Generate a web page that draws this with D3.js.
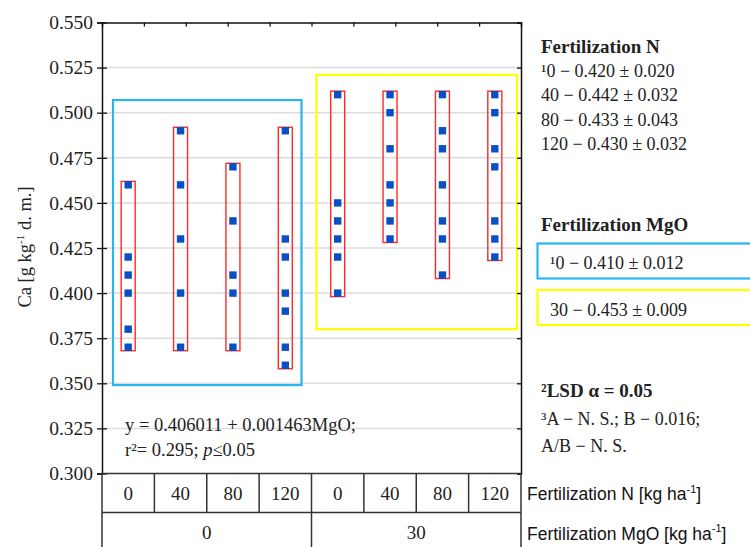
<!DOCTYPE html>
<html>
<head>
<meta charset="utf-8">
<script src="https://cdn.jsdelivr.net/npm/d3@7/dist/d3.min.js"></script>
<style>
  body { margin: 0; background: #fff; }
  svg { display: block; }
</style>
</head>
<body>
<div id="chart"></div>
<script>
/* Data */
var nLevels = ["0", "40", "80", "120"];
var mgoLevels = ["0", "30"];
// Ca content for each N level, MgO 0
var caMgO0 = [
    [0.46, 0.42, 0.41, 0.40, 0.38, 0.37],
    [0.49, 0.46, 0.43, 0.40, 0.37],
    [0.47, 0.44, 0.41, 0.40, 0.37],
    [0.49, 0.43, 0.42, 0.40, 0.39, 0.37, 0.36]
];
// Ca content for each N level, MgO 30
var caMgO30 = [
    [0.51, 0.45, 0.44, 0.43, 0.42, 0.40],
    [0.51, 0.50, 0.48, 0.46, 0.45, 0.44, 0.43],
    [0.51, 0.49, 0.48, 0.46, 0.44, 0.43, 0.41],
    [0.51, 0.50, 0.48, 0.47, 0.44, 0.43, 0.42]
];
var yTicks = [0.300, 0.325, 0.350, 0.375, 0.400, 0.425, 0.450, 0.475, 0.500, 0.525, 0.550];
// group boxes (Ca range) for MgO 0 and MgO 30
var groupBoxCa = [[0.349, 0.507], [0.380, 0.521]];
var nMeans = ["\u00B90 \u2212 0.420 \u00B1 0.020", "40 \u2212 0.442 \u00B1 0.032",
              "80 \u2212 0.433 \u00B1 0.043", "120 \u2212 0.430 \u00B1 0.032"];
var mgoMeans = ["\u00B90 \u2212 0.410 \u00B1 0.012", "30 \u2212 0.453 \u00B1 0.009"];
var lsdLines = ["\u00B3A \u2212 N. S.; B \u2212 0.016;", "A/B \u2212 N. S."];

/* Setup */
var width = 750, height = 547,
    serif = "'Liberation Serif', 'Times New Roman', serif",
    sans = "'Liberation Sans', Arial, sans-serif",
    groupColors = ["#29b6ee", "#ffff00"],
    pointColor = "#0a50c4",
    rangeColor = "#ff2a2a";

var plot = { left: 102, right: 521, top: 22.5, bottom: 473.5 };

var columns = [];
mgoLevels.forEach(function(m, gi) {
    var vals = gi == 0 ? caMgO0 : caMgO30;
    nLevels.forEach(function(n, ni) {
        columns.push({ key: m + "-" + n, mgo: m, n: n, group: gi, values: vals[ni] });
    });
});

var x = d3.scaleBand()
    .domain(columns.map(function(d) { return d.key; }))
    .range([plot.left, plot.right])
    .paddingInner(0).paddingOuter(0);
var bw = x.bandwidth();
var xTop = d3.scaleLinear().domain([0, 10]).range([plot.left, plot.right]);

var y = d3.scaleLinear()
    .domain([0.300, 0.550])
    .range([plot.bottom, plot.top]);

var svg = d3.select("#chart")
    .append("svg")
    .attr("width", width)
    .attr("height", height);

/* Gridlines */
svg.append("g")
    .selectAll("line")
    .data(yTicks.slice(1, -1))
    .enter().append("line")
    .attr("x1", plot.left).attr("x2", plot.right)
    .attr("y1", function(d) { return y(d); })
    .attr("y2", function(d) { return y(d); })
    .attr("stroke", "#dcdcdc")
    .attr("stroke-width", 1.5);

/* Group boxes */
svg.append("g")
    .selectAll("rect")
    .data(groupBoxCa)
    .enter().append("rect")
    .attr("x", function(d, i) { return i == 0 ? x(columns[0].key) + 11 : x(columns[4].key) + 5; })
    .attr("width", function(d, i) { return i == 0 ? bw * 4 - 21 : bw * 4 - 9; })
    .attr("y", function(d) { return y(d[1]); })
    .attr("height", function(d) { return y(d[0]) - y(d[1]); })
    .attr("fill", "none")
    .attr("stroke", function(d, i) { return groupColors[i]; })
    .attr("stroke-width", 2.2);

/* Range boxes & points */
var col = svg.append("g")
    .selectAll("g")
    .data(columns)
    .enter().append("g")
    .attr("transform", function(d) { return "translate(" + (x(d.key) + bw / 2) + ",0)"; });

col.append("rect")
    .attr("x", -7)
    .attr("width", 14)
    .attr("y", function(d) { return y(d3.max(d.values)) - 3.5; })
    .attr("height", function(d) { return y(d3.min(d.values)) - y(d3.max(d.values)) + 7; })
    .attr("fill", "none")
    .attr("stroke", rangeColor)
    .attr("stroke-width", 1.4);

col.selectAll(".pt")
    .data(function(d) { return d.values; })
    .enter().append("rect")
    .attr("class", "pt")
    .attr("x", -3.7)
    .attr("width", 7.4)
    .attr("y", function(d) { return y(d) - 3.7; })
    .attr("height", 7.4)
    .attr("fill", pointColor);

/* Axes */
var yAxisL = svg.append("g")
    .attr("transform", "translate(" + plot.left + ",0)")
    .call(d3.axisLeft(y).tickValues(yTicks).tickFormat(d3.format(".3f")).tickSize(5).tickPadding(4));
yAxisL.selectAll(".tick line").attr("x2", -5).attr("x1", 5);
yAxisL.selectAll("text").attr("font-family", serif).attr("font-size", 19.5).attr("fill", "#222");

var yAxisR = svg.append("g")
    .attr("transform", "translate(" + plot.right + ",0)")
    .call(d3.axisLeft(y).tickValues(yTicks).tickFormat("").tickSize(4));

var xAxisT = svg.append("g")
    .attr("transform", "translate(0," + plot.top + ")")
    .call(d3.axisBottom(xTop).ticks(10).tickFormat("").tickSize(4));
xAxisT.selectAll(".tick").filter(function(d) { return d == 0 || d == 10; }).remove();

svg.selectAll(".domain").attr("stroke", "#111").attr("stroke-width", 1.5);
svg.selectAll(".tick line").attr("stroke", "#111").attr("stroke-width", 1.3);

/* Table under the plot */
var rowN = [plot.bottom, 512.5], rowM = [512.5, 560];
var table = svg.append("g").attr("stroke", "#333").attr("stroke-width", 1.5);
table.append("line").attr("x1", plot.left).attr("x2", plot.right).attr("y1", rowN[0]).attr("y2", rowN[0]);
table.append("line").attr("x1", plot.left).attr("x2", plot.right).attr("y1", rowN[1]).attr("y2", rowN[1]);
table.append("line").attr("x1", plot.left).attr("x2", plot.left).attr("y1", rowN[0]).attr("y2", rowM[1]);
table.append("line").attr("x1", plot.right).attr("x2", plot.right).attr("y1", rowN[0]).attr("y2", rowM[1]);
table.selectAll(".vn")
    .data(columns.slice(1))
    .enter().append("line")
    .attr("x1", function(d) { return x(d.key); })
    .attr("x2", function(d) { return x(d.key); })
    .attr("y1", rowN[0])
    .attr("y2", function(d) { return d.n == nLevels[0] ? rowM[1] : rowN[1]; });

svg.append("g")
    .selectAll("text")
    .data(columns)
    .enter().append("text")
    .attr("x", function(d) { return x(d.key) + bw / 2; })
    .attr("y", (rowN[0] + rowN[1]) / 2 + 6.5)
    .attr("text-anchor", "middle")
    .attr("font-family", serif).attr("font-size", 19).attr("fill", "#222")
    .text(function(d) { return d.n; });

svg.append("g")
    .selectAll("text")
    .data(mgoLevels)
    .enter().append("text")
    .attr("x", function(d, i) { return x(columns[i * 4].key) + bw * 2; })
    .attr("y", 538.5)
    .attr("text-anchor", "middle")
    .attr("font-family", serif).attr("font-size", 19).attr("fill", "#222")
    .text(function(d) { return d; });

function labelWithUnit(txt, yPos) {
    var t = svg.append("text")
        .attr("x", 527)
        .attr("y", yPos)
        .attr("font-family", sans).attr("font-size", 17.5).attr("fill", "#111");
    t.append("tspan").text(txt + " [kg ha");
    t.append("tspan").attr("font-size", 11).attr("dy", -7.5).text("-1");
    t.append("tspan").attr("dy", 7.5).text("]");
}
labelWithUnit("Fertilization N", 500);
labelWithUnit("Fertilization MgO", 539.5);

/* Y axis title */
var yt = svg.append("text")
    .attr("transform", "translate(31,247) rotate(-90)")
    .attr("text-anchor", "middle")
    .attr("font-family", serif).attr("font-size", 18.5).attr("fill", "#222");
yt.append("tspan").text("Ca [g kg");
yt.append("tspan").attr("font-size", 11).attr("dy", -7).text("-1");
yt.append("tspan").attr("dy", 7).text(" d. m.]");

/* Regression text */
svg.append("text")
    .attr("x", 125).attr("y", 431)
    .attr("font-family", serif).attr("font-size", 18.5).attr("fill", "#222")
    .text("y = 0.406011 + 0.001463MgO;");
var rt = svg.append("text")
    .attr("x", 125).attr("y", 456)
    .attr("font-family", serif).attr("font-size", 18.5).attr("fill", "#222");
rt.append("tspan").text("r\u00B2= 0.295; ");
rt.append("tspan").attr("font-style", "italic").text("p");
rt.append("tspan").text("\u22640.05");

/* Right panel */
var panel = svg.append("g")
    .attr("font-family", serif).attr("font-size", 18).attr("fill", "#222");

panel.append("text").attr("x", 541).attr("y", 53)
    .attr("font-weight", "bold").attr("font-size", 19).text("Fertilization N");
panel.selectAll(".nm")
    .data(nMeans)
    .enter().append("text")
    .attr("x", 541)
    .attr("y", function(d, i) { return 77 + i * 24.3; })
    .text(function(d) { return d; });

panel.append("text").attr("x", 541).attr("y", 231)
    .attr("font-weight", "bold").attr("font-size", 19).text("Fertilization MgO");
panel.selectAll(".mbox")
    .data(mgoMeans)
    .enter().append("rect")
    .attr("x", 537.5)
    .attr("y", function(d, i) { return 243.5 + i * 46.5; })
    .attr("width", 230)
    .attr("height", 35)
    .attr("fill", "none")
    .attr("stroke", function(d, i) { return groupColors[i]; })
    .attr("stroke-width", 2.2);
panel.selectAll(".mm")
    .data(mgoMeans)
    .enter().append("text")
    .attr("x", 550)
    .attr("y", function(d, i) { return 269 + i * 46.5; })
    .text(function(d) { return d; });

panel.append("text").attr("x", 541).attr("y", 397)
    .attr("font-weight", "bold").attr("font-size", 19).text("\u00B2LSD \u03B1 = 0.05");
panel.selectAll(".lsd")
    .data(lsdLines)
    .enter().append("text")
    .attr("x", 541)
    .attr("y", function(d, i) { return 425 + i * 26.5; })
    .text(function(d) { return d; });
</script>
</body>
</html>
